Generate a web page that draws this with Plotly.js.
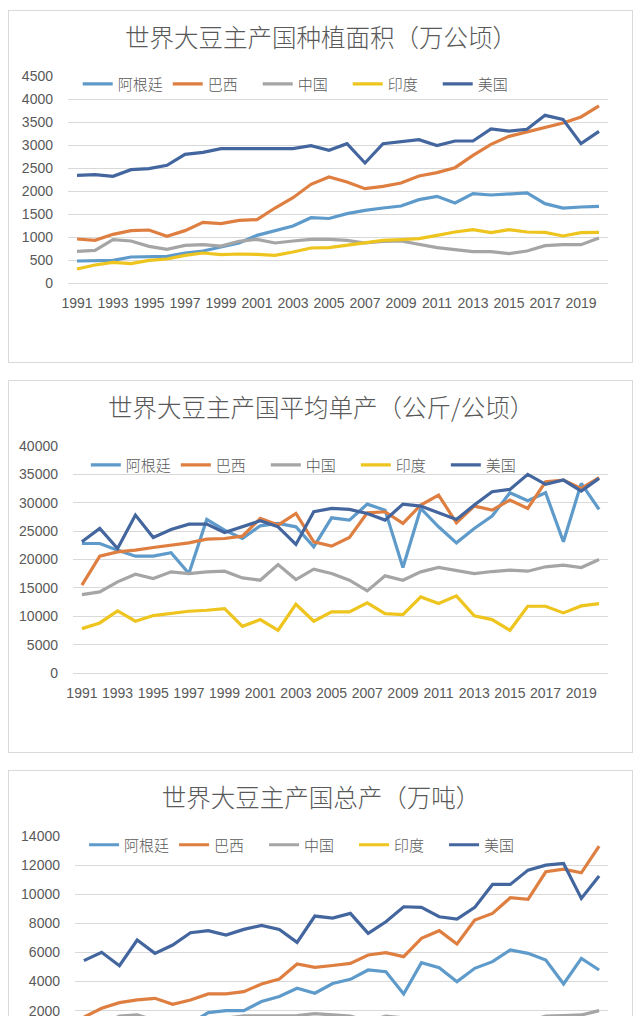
<!DOCTYPE html>
<html>
<head>
<meta charset="utf-8">
<script src="https://cdn.plot.ly/plotly-3.0.1.min.js"></script>
<style>
html,body{margin:0;padding:0;background:#fff;width:640px;height:1016px;overflow:hidden;}
.panel{position:absolute;left:8px;width:623px;border:1px solid #d9d9d9;background:#fff;}
#c1{top:10px;height:351px;}
#c2{top:380px;height:371px;}
#c3{top:770px;height:371px;}
</style>
</head>
<body>
<div id="c1" class="panel"></div>
<div id="c2" class="panel"></div>
<div id="c3" class="panel"></div>
<script>
const years = [1991,1992,1993,1994,1995,1996,1997,1998,1999,2000,2001,2002,2003,2004,2005,2006,2007,2008,2009,2010,2011,2012,2013,2014,2015,2016,2017,2018,2019,2020];
const tickYears = [1991,1993,1995,1997,1999,2001,2003,2005,2007,2009,2011,2013,2015,2017,2019];
const tickLabels = ['1991','1993','1995','1997','1999','2001','2003','2005','2007','2009','2011','2013','2015','2017','2019'];
const seriesNames = ['阿根廷','巴西','中国','印度','美国'];
const seriesColors = ['#5E9BCB','#DE7F41','#A5A5A5','#EEC41E','#44669F'];

const titleArea = '世界大豆主产国种植面积（万公顷）';
const titleYield = '世界大豆主产国平均单产（公斤/公顷）';
const titleProd = '世界大豆主产国总产（万吨）';

// 种植面积（万公顷）
const areaArgentina = [478,493,493,565,565,580,652,696,783,870,1036,1145,1239,1420,1402,1507,1580,1630,1674,1812,1884,1739,1942,1913,1935,1957,1725,1630,1652,1667];
const areaBrazil = [957,928,1058,1138,1152,1014,1138,1319,1290,1362,1377,1630,1855,2145,2304,2196,2051,2101,2174,2326,2399,2507,2775,3014,3188,3283,3391,3478,3609,3848];
const areaChina = [688,710,942,913,797,732,819,833,804,906,949,870,913,949,949,928,870,906,913,833,768,725,681,681,638,696,812,833,833,978];
const areaIndia = [304,391,449,420,493,522,601,652,616,630,623,601,674,761,768,819,884,928,942,964,1036,1109,1159,1094,1159,1109,1101,1022,1094,1101];
const areaUS = [2341,2355,2319,2464,2486,2558,2797,2841,2920,2920,2935,2920,2920,2986,2884,3029,2609,3029,3080,3116,2986,3087,3087,3348,3304,3341,3645,3558,3029,3297];

// 平均单产
const yieldArgentina = [22820,22820,21650,20590,20590,21180,17530,27060,25170,23700,25940,26350,25760,22230,27350,26940,29760,28700,18590,29000,25760,22940,25470,27650,31760,30350,31760,23120,33410,28820];
const yieldBrazil = [15470,20590,21350,21650,22120,22530,22940,23590,23700,24120,27230,26060,28120,23120,22350,23880,28230,28410,26350,29590,31350,26470,29410,28700,30470,29000,33700,34000,32530,34410];
const yieldChina = [13820,14290,16060,17410,16650,17820,17530,17820,17940,16760,16350,19120,16470,18290,17530,16350,14470,17120,16350,17820,18590,18120,17530,17880,18120,17940,18710,19000,18590,20000];
const yieldIndia = [7820,8820,10940,9120,10120,10470,10880,11060,11350,8230,9410,7530,12120,9120,10760,10760,12350,10470,10290,13410,12230,13590,10060,9410,7530,11760,11760,10590,11820,12230];
const yieldUS = [23120,25470,21940,27820,23880,25290,26230,26230,24760,25760,26820,25760,22650,28410,29000,28820,28120,26940,29760,29410,28230,27060,29590,31940,32350,35000,33230,34000,32060,34290];

// 总产（万吨）
const prodArgentina = [1090,1130,1070,1190,1200,1250,1120,1862,2000,2000,2622,2965,3537,3194,3860,4150,4790,4676,3143,5294,4951,3990,4905,5363,6164,5935,5477,3832,5591,4790];
const prodBrazil = [1550,2160,2549,2732,2846,2434,2732,3144,3144,3304,3830,4174,5203,4974,5100,5249,5821,5981,5706,6965,7491,6576,8223,8680,9756,9641,11540,11723,11471,13301];
const prodChina = [990,1060,1620,1700,1340,1330,1470,1500,1480,1640,1650,1700,1660,1790,1700,1620,1280,1620,1500,1480,1400,1300,1190,1230,1170,1270,1620,1650,1700,2000];
const prodIndia = [250,350,500,390,520,580,690,730,710,530,600,460,790,690,820,880,1090,970,970,1290,1240,1500,1170,1040,880,1310,1300,1100,1330,1370];
const prodUS = [5432,6004,5089,6850,5935,6507,7354,7491,7194,7582,7857,7582,6690,8497,8360,8680,7307,8108,9137,9092,8451,8291,9092,10671,10671,11655,11998,12113,9710,11243];

const TXT = '#595959';
const GRID = '#d9d9d9';
const CJK = '"Noto Sans CJK SC", "Noto Sans", sans-serif';
const NUM = '"Liberation Sans", Arial, sans-serif';

function traces(lists) {
  return lists.map((ys, i) => ({
    type: 'scatter', mode: 'lines', x: years, y: ys, name: seriesNames[i],
    line: {color: seriesColors[i], width: 3.2},
    hoverinfo: 'skip'
  }));
}

function layout(o) {
  return {
    width: 623, height: o.h,
    margin: {l: o.l, r: 24, t: 65, b: o.b, pad: 0},
    paper_bgcolor: '#fff', plot_bgcolor: '#fff',
    showlegend: true,
    title: {text: o.title, x: 0.501, xanchor: 'center', xref: 'container',
            y: 1 - 27 / o.h, yanchor: 'middle', yref: 'container', automargin: false,
            font: {family: CJK, size: 24.5, color: TXT, weight: 300}},
    legend: {orientation: 'h', x: o.lx, xanchor: 'left', y: o.ly, yanchor: 'middle',
             bgcolor: 'rgba(0,0,0,0)', borderwidth: 0,
             font: {family: CJK, size: 15, color: TXT, weight: 300},
             entrywidth: 45, entrywidthmode: 'pixels', itemwidth: 30},
    xaxis: {range: [1990.5, 2020.5], tickmode: 'array', tickvals: tickYears, ticktext: tickLabels,
            showticklabels: o.xlabels, automargin: false,
            showgrid: false, zeroline: false, showline: false, ticks: '',
            tickfont: {family: NUM, size: 14, color: TXT}, ticklabelstandoff: 10, fixedrange: true},
    yaxis: {range: [o.ymin, o.ymax], dtick: o.dtick, tick0: 0, tickformat: 'd', automargin: false,
            ticklabeloverflow: 'allow',
            showgrid: true, gridcolor: GRID, gridwidth: 1,
            zeroline: true, zerolinecolor: GRID, zerolinewidth: 1, showline: false, ticks: '',
            tickfont: {family: NUM, size: 14, color: TXT}, ticklabelstandoff: 14, fixedrange: true}
  };
}

const cfg = {displayModeBar: false, staticPlot: true};

Plotly.newPlot('c1', traces([areaArgentina, areaBrazil, areaChina, areaIndia, areaUS]),
  layout({title: titleArea, h: 351, l: 59, b: 79, ymin: 0, ymax: 4500, dtick: 500, lx: 0.018, ly: 0.961, xlabels: true}), cfg);
Plotly.newPlot('c2', traces([yieldArgentina, yieldBrazil, yieldChina, yieldIndia, yieldUS]),
  layout({title: titleYield, h: 371, l: 64, b: 79, ymin: 0, ymax: 40000, dtick: 5000, lx: 0.024, ly: 0.916, xlabels: true}), cfg);
// the reference image is cropped at its bottom edge: only the upper part of this panel (down to the page edge) is visible
Plotly.newPlot('c3', traces([prodArgentina, prodBrazil, prodChina, prodIndia, prodUS]),
  layout({title: titleProd, h: 371, l: 66, b: 126, ymin: 1629, ymax: 14000, dtick: 2000, lx: 0.017, ly: 0.95, xlabels: false}), cfg);
</script>
</body>
</html>
